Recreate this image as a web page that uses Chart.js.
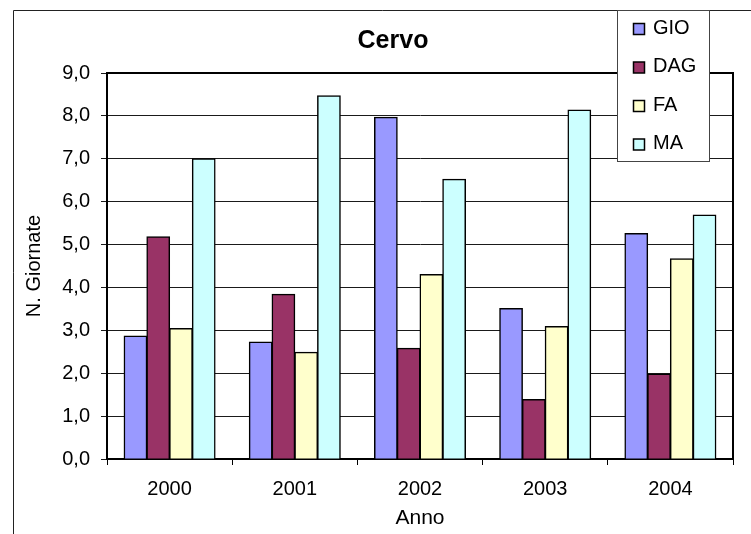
<!DOCTYPE html>
<html>
<head>
<meta charset="utf-8">
<script src="https://cdn.jsdelivr.net/npm/chart.js@4/dist/chart.umd.min.js"></script>
<style>
  html, body { margin: 0; padding: 0; background: #fff; }
  canvas { display: block; }
</style>
</head>
<body>
<canvas id="chartCervo" width="751" height="534"></canvas>
<script>
// dati
const anni = ['2000', '2001', '2002', '2003', '2004'];
const gio = [2.87, 2.73, 7.97, 3.51, 5.26];
const dag = [5.18, 3.84, 2.58, 1.39, 1.98];
const fa = [3.04, 2.49, 4.30, 3.09, 4.67];
const ma = [7.00, 8.47, 6.52, 8.14, 5.69];
const serie = ['GIO', 'DAG', 'FA', 'MA'];
const colori = ['#9999FF', '#993366', '#FFFFCC', '#CCFFFF'];

const FONT = "'Liberation Sans', Arial, sans-serif";

// cornice, bordo area grafico e legenda stile Excel
const excelStyle = {
    id: 'excelStyle',
    afterLayout(chart) {
        // sposta il titolo verso destra come nell'originale
        if (chart.titleBlock) chart.titleBlock.left += 40;
    },
    afterDraw(chart) {
        const ctx = chart.ctx;
        const a = chart.chartArea;
        ctx.save();
        // cornice esterna
        ctx.strokeStyle = '#222';
        ctx.lineWidth = 1;
        ctx.beginPath();
        ctx.moveTo(13.5, 534);
        ctx.lineTo(13.5, 10.5);
        ctx.lineTo(751, 10.5);
        ctx.stroke();
        // bordo destro e superiore area grafico
        ctx.strokeStyle = '#000';
        ctx.lineWidth = 2;
        ctx.beginPath();
        ctx.moveTo(a.left, a.top);
        ctx.lineTo(a.right, a.top);
        ctx.lineTo(a.right, a.bottom);
        ctx.stroke();
        // legenda
        ctx.fillStyle = '#fff';
        ctx.fillRect(617, 10, 92, 151);
        ctx.strokeStyle = '#444';
        ctx.lineWidth = 1;
        ctx.strokeRect(617.5, 10.5, 92, 151);
        ctx.font = '20px ' + FONT;
        ctx.textBaseline = 'middle';
        ctx.textAlign = 'left';
        chart.data.datasets.forEach((ds, i) => {
            const y = 23.5 + i * 38.5;
            ctx.fillStyle = ds.backgroundColor;
            ctx.fillRect(633.5, y, 11, 11);
            ctx.strokeStyle = '#000';
            ctx.lineWidth = 1.5;
            ctx.strokeRect(633.5, y, 11, 11);
            ctx.fillStyle = '#000';
            ctx.fillText(ds.label, 653, y + 4.5);
        });
        ctx.restore();
    }
};

const valori = [gio, dag, fa, ma];
const ctx = document.getElementById('chartCervo').getContext('2d');
new Chart(ctx, {
    type: 'bar',
    data: {
        labels: anni,
        datasets: serie.map((nome, i) => ({
            label: nome,
            data: valori[i],
            backgroundColor: colori[i],
            borderColor: '#000',
            borderWidth: 1.5,
            inflateAmount: 0.5,
            categoryPercentage: 0.727,
            barPercentage: 1.0
        }))
    },
    options: {
        responsive: false,
        animation: false,
        layout: { padding: { top: 10, left: 13, right: 18, bottom: 0 } },
        plugins: {
            legend: { display: false },
            tooltip: { enabled: false },
            title: {
                display: true,
                text: 'Cervo',
                color: '#000',
                font: { family: FONT, size: 25, weight: 'bold' },
                padding: { top: 16, bottom: 17 }
            }
        },
        scales: {
            x: {
                offset: true,
                grid: {
                    offset: true,
                    drawOnChartArea: false,
                    drawTicks: true,
                    tickLength: 6,
                    color: '#000'
                },
                border: { display: true, color: '#000', width: 2 },
                ticks: {
                    color: '#000',
                    font: { family: FONT, size: 20 },
                    padding: 12,
                    maxRotation: 0
                },
                title: {
                    display: true,
                    text: 'Anno',
                    color: '#000',
                    font: { family: FONT, size: 21 },
                    padding: { top: 0, bottom: 3 }
                },
                afterFit(scale) { scale.height = 75; }
            },
            y: {
                min: 0,
                max: 9,
                grid: {
                    color: '#1a1a1a',
                    lineWidth: 1,
                    drawTicks: true,
                    tickLength: 6
                },
                border: { display: true, color: '#000', width: 2 },
                ticks: {
                    stepSize: 1,
                    color: '#000',
                    font: { family: FONT, size: 20 },
                    padding: 11,
                    callback: v => v.toFixed(1).replace('.', ',')
                },
                title: {
                    display: true,
                    text: 'N. Giornate',
                    color: '#000',
                    font: { family: FONT, size: 20 },
                    padding: { top: 9, bottom: 0 }
                },
                afterFit(scale) { scale.width = 94; }
            }
        }
    },
    plugins: [excelStyle]
});
</script>
</body>
</html>
